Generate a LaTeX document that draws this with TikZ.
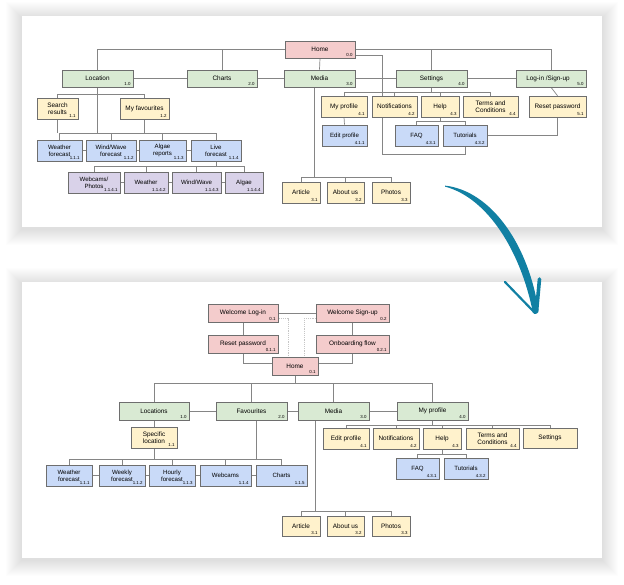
\documentclass[tikz,border=0pt]{standalone}
\usepackage{fontspec}
\setmainfont{Liberation Sans}
\usetikzlibrary{shadows,calc}
\definecolor{cpink}{HTML}{F4CCCC}
\definecolor{cgreen}{HTML}{D9EAD3}
\definecolor{cyellow}{HTML}{FFF2CC}
\definecolor{cblue}{HTML}{C9DAF8}
\definecolor{cpurple}{HTML}{D9D2E9}
\definecolor{boxline}{HTML}{6E6E6E}
\definecolor{conn}{HTML}{858585}
\definecolor{teal}{RGB}{17,128,163}
\pgfdeclarelayer{bg}
\pgfdeclarelayer{lines}
\pgfsetlayers{bg,lines,main}
\newcommand\nbox[8]{%
  \node[box,#6,minimum width={(#4-#2)*1pt},minimum height={(#5-#3)*1pt}] (#1) at ({(#2+#4)/2},{(#3+#5)/2}) {#7};
  \node[numsty] at ([xshift=-2.5pt,yshift=2pt]#1.south east) {#8};
}
\newcommand\softpanel[4]{%
  \foreach \i in {1,...,16} {
    \fill[black,opacity=0.006] ({#1-\i},{#2-\i+2}) rectangle ({#3+\i},{#4+\i+2});
  }
  \fill[white] (#1,#2) rectangle (#3,#4);
}
\tikzset{
  box/.style={draw=boxline,line width=0.6pt,inner sep=0.5pt,align=center,
    font=\fontsize{6.4}{7.2}\selectfont,
    drop shadow={shadow xshift=0.6pt,shadow yshift=-0.6pt,opacity=0.3}},
  pk/.style={fill=cpink},
  gr/.style={fill=cgreen},
  ye/.style={fill=cyellow},
  bl/.style={fill=cblue,font=\fontsize{6.1}{6.9}\selectfont},
  pu/.style={fill=cpurple,font=\fontsize{6.1}{6.9}\selectfont},
  numsty/.style={anchor=base east,inner sep=0pt,font=\fontsize{4.4}{5}\selectfont},
  cn/.style={draw=conn,line width=0.7pt},
  dotc/.style={draw=gray!45,line width=0.7pt,dash pattern=on 1.2pt off 1pt}
}
\begin{document}
\begin{tikzpicture}[x=1pt,y=-1pt]
\useasboundingbox (0,0) rectangle (624,584);
\begin{pgfonlayer}{bg}
  \fill[white] (0,0) rectangle (624,584);
  \softpanel{22}{16}{602}{227}
  \softpanel{22}{282}{602}{558}
\end{pgfonlayer}

% ---------- top panel ----------
\nbox{home}{285}{41}{355}{58}{pk}{Home}{0.0}
\nbox{loc}{62}{70}{133}{87}{gr}{Location}{1.0}
\nbox{charts}{187}{70}{257}{87}{gr}{Charts}{2.0}
\nbox{media}{284}{70}{355}{87}{gr}{Media}{3.0}
\nbox{sett}{396}{70}{467}{87}{gr}{Settings}{4.0}
\nbox{login}{516}{70}{586}{87}{gr}{Log-in /Sign-up\hspace{6pt}}{5.0}
\nbox{srch}{37}{98}{78}{119}{ye}{Search\\results}{1.1}
\nbox{fav}{120}{98}{169}{119}{ye}{My favourites}{1.2}
\nbox{wf}{37}{140}{82}{161}{bl}{Weather\\forecast}{1.1.1}
\nbox{ww}{86}{140}{136}{161}{bl}{Wind/Wave\\forecast}{1.1.2}
\nbox{alg}{139}{140}{186}{161}{bl}{Algae\\reports}{1.1.3}
\nbox{live}{191}{140}{241}{161}{bl}{Live\\forecast}{1.1.4}
\nbox{wp}{68}{172}{120}{193}{pu}{Webcams/\\Photos}{1.1.4.1}
\nbox{wea}{124}{172}{168}{193}{pu}{Weather}{1.1.4.2}
\nbox{wwv}{172}{172}{221}{193}{pu}{Wind/Wave}{1.1.4.3}
\nbox{algb}{225}{172}{263}{193}{pu}{Algae}{1.1.4.4}
\nbox{art}{282}{182}{320}{203}{ye}{Article}{3.1}
\nbox{about}{327}{182}{364}{203}{ye}{About us}{3.2}
\nbox{photos}{372}{182}{410}{203}{ye}{Photos}{3.3}
\nbox{myp}{321}{96}{367}{117}{ye}{My profile}{4.1}
\nbox{notif}{372}{96}{417}{117}{ye}{Notifications}{4.2}
\nbox{help}{421}{96}{459}{117}{ye}{Help}{4.3}
\nbox{terms}{463}{96}{518}{117}{ye}{Terms and\\Conditions}{4.4}
\nbox{reset}{529}{96}{586}{117}{ye}{Reset password}{5.1}
\nbox{edit}{322}{125}{367}{146}{bl}{Edit profile}{4.1.1}
\nbox{faq}{395}{125}{438}{146}{bl}{FAQ}{4.3.1}
\nbox{tut}{443}{125}{487}{146}{bl}{Tutorials}{4.3.2}

% ---------- bottom panel ----------
\nbox{wlog}{208}{304}{278}{322}{pk}{Welcome Log-in}{0.1}
\nbox{wsign}{316}{304}{389}{322}{pk}{Welcome Sign-up}{0.2}
\nbox{rp}{208}{335}{278}{353}{pk}{Reset password}{0.1.1}
\nbox{onb}{316}{335}{389}{353}{pk}{Onboarding flow}{0.2.1}
\nbox{hometwo}{272}{357}{318}{375}{pk}{Home}{0.1}
\nbox{locs}{119}{402}{189}{420}{gr}{Locations}{1.0}
\nbox{favs}{216}{402}{287}{420}{gr}{Favourites}{2.0}
\nbox{mediatwo}{298}{402}{369}{420}{gr}{Media}{3.0}
\nbox{myptwo}{397}{402}{468}{420}{gr}{My profile}{4.0}
\nbox{spec}{131}{427}{177}{448}{ye}{Specific\\location}{1.1}
\nbox{bw}{46}{465}{92}{486}{bl}{Weather\\forecast}{1.1.1}
\nbox{bwk}{99}{465}{145}{486}{bl}{Weekly\\forecast}{1.1.2}
\nbox{bh}{149}{465}{195}{486}{bl}{Hourly\\forecast}{1.1.3}
\nbox{bwc}{200}{465}{251}{486}{bl}{Webcams}{1.1.4}
\nbox{bch}{256}{465}{307}{486}{bl}{Charts}{1.1.5}
\nbox{arttwo}{282}{516}{320}{536}{ye}{Article}{3.1}
\nbox{abtwo}{327}{516}{364}{536}{ye}{About us}{3.2}
\nbox{phtwo}{372}{516}{410}{536}{ye}{Photos}{3.3}
\nbox{edtwo}{323}{428}{369}{449}{ye}{Edit profile}{4.1}
\nbox{nttwo}{373}{428}{419}{449}{ye}{Notifications}{4.2}
\nbox{hptwo}{423}{428}{461}{449}{ye}{Help}{4.3}
\nbox{tctwo}{466}{428}{519}{449}{ye}{Terms and\\Conditions}{4.4}
\nbox{sttwo}{523}{428}{577}{448}{ye}{Settings}{}
\nbox{faqtwo}{396}{458}{439}{479}{bl}{FAQ}{4.3.1}
\nbox{tuttwo}{444}{458}{488}{479}{bl}{Tutorials}{4.3.2}

\begin{pgfonlayer}{lines}
% top panel connectors
\draw[cn] (home.west) -| (loc.north);
\draw[cn] (charts.north) -- (charts.north |- home.west);
\draw[cn] (home.east) -| (login.north);
\draw[cn] (sett.north) -- (sett.north |- home.east);
\draw[cn] (home.south) -- (media.north);
\draw[cn] (home.east |- 0,55) -- (382,55) -- (382,154) -| (tut.south);
\draw[cn] (loc.east) -- (charts.west);
\draw[cn] (charts.east) -- (media.west);
\draw[cn] (media.east) -- (sett.west);
\draw[cn] (sett.east) -- (login.west);
\draw[cn] (loc.south) -- (loc.south |- 0,133);
\draw[cn] (srch.north) -- (srch.north |- 0,94) -| (fav.north);
\draw[cn] (srch.south) -- (srch.south |- 0,133);
\draw[cn] (fav.south) -- (fav.south |- 0,133);
\draw[cn] (wf.north |- 0,133) -- (live.north |- 0,133);
\foreach \n in {wf,ww,alg,live} \draw[cn] (\n.north) -- (\n.north |- 0,133);
\draw[cn] (wf.east) -- (ww.west);
\draw[cn] (ww.east) -- (alg.west);
\draw[cn] (alg.east) -- (live.west);
\draw[cn] (live.south) -- (live.south |- 0,166);
\draw[cn] (wp.north |- 0,166) -- (algb.north |- 0,166);
\foreach \n in {wp,wea,wwv,algb} \draw[cn] (\n.north) -- (\n.north |- 0,166);
\draw[cn] (wp.east) -- (wea.west);
\draw[cn] (wea.east) -- (wwv.west);
\draw[cn] (wwv.east) -- (algb.west);
\draw[cn] ([xshift=-5pt]media.south) -- ([xshift=-5pt]media.south |- 0,177);
\draw[cn] (art.north |- 0,177) -- (photos.north |- 0,177);
\foreach \n in {art,about,photos} \draw[cn] (\n.north) -- (\n.north |- 0,177);
\draw[cn] (sett.south) -- (sett.south |- 0,92);
\draw[cn] (myp.north |- 0,92) -- (terms.north |- 0,92);
\foreach \n in {myp,notif,help,terms} \draw[cn] (\n.north) -- (\n.north |- 0,92);
\draw[cn] (myp.south) -- (edit.north);
\draw[cn] (help.south) -- (help.south |- 0,121);
\draw[cn] (faq.north |- 0,121) -- (tut.north |- 0,121);
\foreach \n in {faq,tut} \draw[cn] (\n.north) -- (\n.north |- 0,121);
\draw[cn] (login.south) -- (reset.north);
\draw[cn] (reset.south) |- (tut.east);

% bottom panel connectors
\draw[cn] (wlog.east) -- (wsign.west);
\draw[dotc] (wlog.east |- 0,318) -| ([xshift=-7pt]hometwo.north);
\draw[dotc] (wsign.west |- 0,318) -| ([xshift=9pt]hometwo.north);
\draw[cn] (wlog.south) -- (rp.north);
\draw[cn] (wsign.south) -- (onb.north);
\draw[cn] (rp.south) -- (rp.south |- 0,363) -- (hometwo.west |- 0,363);
\draw[cn] (onb.south) -- (onb.south |- 0,363) -- (hometwo.east |- 0,363);
\draw[cn] (hometwo.south) -- (hometwo.south |- 0,383);
\draw[cn] (locs.north |- 0,383) -- (myptwo.north |- 0,383);
\foreach \n in {locs,favs,mediatwo,myptwo} \draw[cn] (\n.north) -- (\n.north |- 0,383);
\draw[cn] (locs.east) -- (favs.west);
\draw[cn] (favs.east) -- (mediatwo.west);
\draw[cn] (mediatwo.east) -- (myptwo.west);
\draw[cn] (locs.south) -- (spec.north);
\draw[cn] (spec.south) -- (spec.south |- 0,459);
\draw[cn] ([xshift=5pt]favs.south) -- ([xshift=5pt]favs.south |- 0,459);
\draw[cn] (bw.north |- 0,459) -- (bch.north |- 0,459);
\foreach \n in {bw,bwk,bh,bwc,bch} \draw[cn] (\n.north) -- (\n.north |- 0,459);
\draw[cn] (bw.east) -- (bwk.west);
\draw[cn] (bwk.east) -- (bh.west);
\draw[cn] (bh.east) -- (bwc.west);
\draw[cn] (bwc.east) -- (bch.west);
\draw[cn] ([xshift=-18.5pt]mediatwo.south) -- ([xshift=-18.5pt]mediatwo.south |- 0,511);
\draw[cn] (arttwo.north |- 0,511) -- (phtwo.north |- 0,511);
\foreach \n in {arttwo,abtwo,phtwo} \draw[cn] (\n.north) -- (\n.north |- 0,511);
\draw[cn] (myptwo.south) -- (myptwo.south |- 0,425);
\draw[cn] (edtwo.north |- 0,425) -- (sttwo.north |- 0,425);
\foreach \n in {edtwo,nttwo,hptwo,tctwo,sttwo} \draw[cn] (\n.north) -- (\n.north |- 0,425);
\draw[cn] (hptwo.south) -- (hptwo.south |- 0,454);
\draw[cn] (faqtwo.north |- 0,454) -- (tuttwo.north |- 0,454);
\foreach \n in {faqtwo,tuttwo} \draw[cn] (\n.north) -- (\n.north |- 0,454);
\end{pgfonlayer}

% ---------- teal arrow ----------
\fill[teal] (445,185.6) .. controls (492,191) and (529,246) .. (538.5,311)
  -- (533,313) .. controls (521,252) and (488,198) .. (445,186.6) -- cycle;
\draw[teal,line width=2.2pt,line cap=round] (505,282) -- (535,313);
\draw[teal,line width=3.6pt,line cap=round] (539.5,279) -- (536.5,312);
\end{tikzpicture}
\end{document}
